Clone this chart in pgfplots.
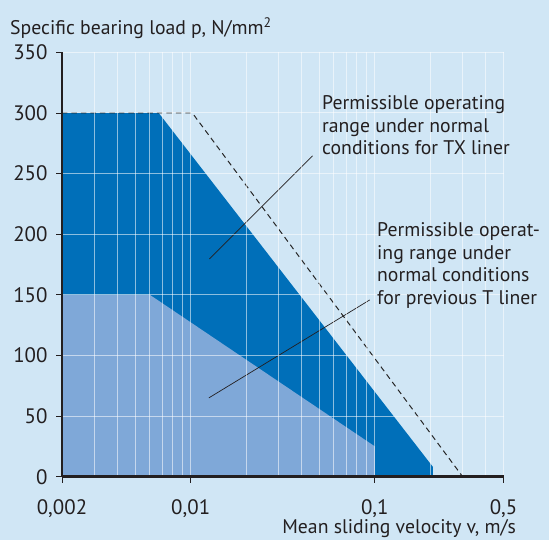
\documentclass[border=0pt]{standalone}
\usepackage{fontspec}
\setmainfont{PT Sans}
\usepackage{pgfplots}
\pgfplotsset{compat=1.18}
\definecolor{bgblue}{RGB}{208,230,245}
\definecolor{darkblue}{RGB}{0,111,185}
\definecolor{lightregion}{RGB}{127,168,216}
\definecolor{txt}{RGB}{35,31,32}
\begin{document}
\begin{tikzpicture}[x=1bp,y=1bp]
\fill[bgblue] (0,0) rectangle (549,540);
\useasboundingbox (0,0) rectangle (549,540);
\begin{axis}[
  at={(62bp,63.3bp)}, anchor=south west,
  scale only axis, width=441.5bp, height=424.4bp,
  xmode=log, xmin=0.002, xmax=0.5, ymin=0, ymax=350,
  axis x line*=bottom, axis y line*=left,
  axis line style={line width=2.6bp, color=txt},
  xtick={0.002,0.01,0.1,0.5},
  xticklabels={{0,002},{0,01},{0,1},{0,5}},
  minor xtick={0.003,0.004,0.005,0.006,0.007,0.008,0.009,0.02,0.03,0.04,0.05,0.06,0.07,0.08,0.09,0.2,0.3,0.4},
  ytick={0,50,...,350},
  xmajorgrids, xminorgrids, ymajorgrids,
  major grid style={white, line width=1bp, opacity=0.55},
  minor grid style={white, line width=1bp, opacity=0.55},
  tick align=outside, major tick length=6bp, minor tick length=0pt,
  tick style={line width=0.8bp, color=txt},
  ticklabel style={font=\fontsize{21}{25}\selectfont, text=txt},
  xticklabel style={yshift=-13bp},
  yticklabel style={xshift=-5bp},
  /pgf/number format/assume math mode=true,
  axis on top,
]
\addplot[fill=darkblue, draw=none] coordinates {(0.002,0) (0.002,300) (0.0067,300) (0.207,8) (0.207,0)} -- cycle;
\addplot[fill=lightregion, draw=none] coordinates {(0.002,0) (0.002,150) (0.006,150) (0.1,25) (0.1,0)} -- cycle;
\addplot[dash pattern=on 5.5bp off 4bp, line width=1bp, color=black!85] coordinates {(0.002,300) (0.0102,300) (0.3,0)};
\draw[txt, line width=0.7bp] (axis cs:0.01263,179.6) -- (axis cs:0.04596,264.6);
\draw[txt, line width=0.7bp] (axis cs:0.01255,65) -- (axis cs:0.0939,145.8);
\end{axis}
\begin{scope}[every node/.style={inner sep=0pt, text=txt, font=\fontsize{19.8}{23}\selectfont}]
\node[anchor=base west] at (10,505) {Specific bearing load p, N/mm\textsuperscript{2}};
\node[anchor=base east] at (516,6) {Mean sliding velocity v, m/s};
\node[anchor=base west] at (322,430) {Permissible operating};
\node[anchor=base west] at (322,407.5) {range under normal};
\node[anchor=base west] at (322,385) {conditions for TX liner};
\node[anchor=base west] at (377,303) {Permissible operat-};
\node[anchor=base west] at (377,280.5) {ing range under};
\node[anchor=base west] at (377,258) {normal conditions};
\node[anchor=base west] at (377,235.5) {for previous T liner};
\end{scope}
\end{tikzpicture}
\end{document}
